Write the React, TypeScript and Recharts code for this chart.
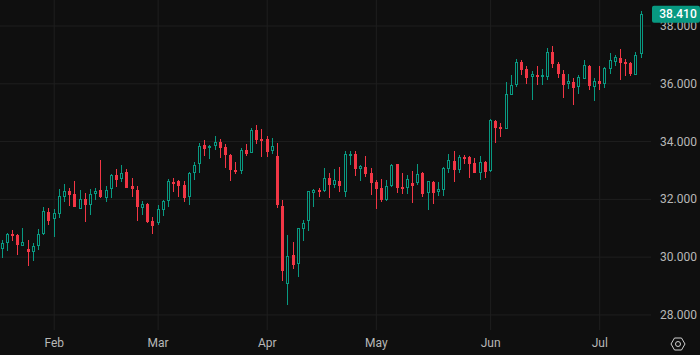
import { Bar, CartesianGrid, ComposedChart, XAxis, YAxis } from 'recharts';

const opens = [
  30.27, 30.48, 30.79, 30.76, 30.40, 30.28, 30.16, 30.38, 30.80, 31.55,
  31.34, 31.48, 32.07, 32.29, 32.18, 31.66, 32.00, 31.79, 32.16, 32.31,
  32.06, 32.37, 32.83, 32.68, 32.95, 32.45, 32.31, 31.68, 31.83, 31.24,
  31.19, 31.61, 31.92, 32.59, 32.63, 32.50, 32.06, 32.92, 33.20, 33.87,
  33.82, 33.82, 33.97, 33.80, 33.52, 33.02, 32.96, 33.71, 33.59, 34.40,
  34.09, 34.09, 33.65, 33.50, 31.77, 29.06, 30.08, 29.77, 30.95, 31.23,
  32.21, 32.34, 32.27, 32.74, 32.47, 32.64, 32.23, 33.55, 33.56, 33.05,
  33.12, 32.91, 32.60, 32.39, 31.96, 32.46, 33.22, 32.43, 32.39, 32.56,
  32.57, 32.91, 32.20, 32.60, 32.24, 32.30, 33.05, 33.33, 33.03, 33.46,
  33.47, 33.26, 32.89, 33.29, 32.98, 34.71, 34.50, 34.42, 35.60, 35.94,
  36.75, 36.50, 36.21, 36.30, 36.27, 36.24, 37.10, 36.69, 36.34, 35.99,
  36.06, 35.87, 36.18, 36.62, 35.89, 36.10, 35.99, 36.50, 36.75, 36.89,
  36.75, 36.72, 36.32, 37.01,
];
const highs = [
  30.60, 30.83, 30.94, 30.79, 31.00, 30.60, 30.49, 30.98, 31.74, 31.69,
  31.66, 32.35, 32.53, 32.38, 32.62, 32.33, 32.21, 32.36, 32.40, 33.36,
  32.45, 32.88, 33.05, 33.19, 33.05, 32.74, 32.45, 31.94, 31.86, 31.38,
  31.81, 31.98, 32.71, 32.74, 32.66, 32.64, 32.95, 33.28, 33.94, 34.04,
  33.88, 34.19, 34.09, 33.92, 33.57, 33.29, 33.77, 33.92, 34.46, 34.57,
  34.44, 34.19, 34.12, 33.95, 31.98, 30.77, 30.53, 31.00, 31.27, 32.29,
  32.36, 32.39, 33.09, 32.91, 33.05, 33.12, 33.66, 33.66, 33.66, 33.19,
  33.50, 33.09, 32.67, 32.71, 32.67, 33.21, 33.22, 32.90, 32.84, 32.98,
  33.22, 32.95, 32.64, 32.64, 32.60, 33.11, 33.57, 33.66, 33.52, 33.54,
  33.50, 33.43, 33.50, 33.33, 34.78, 34.75, 34.64, 36.05, 36.30, 36.86,
  36.81, 36.60, 36.43, 36.62, 36.51, 37.24, 37.31, 36.75, 36.48, 36.34,
  36.20, 36.30, 36.82, 36.65, 36.20, 36.62, 36.58, 37.07, 37.00, 37.20,
  36.86, 36.75, 37.10, 38.52,
];
const lows = [
  29.97, 30.19, 30.57, 30.08, 30.40, 29.70, 29.88, 30.25, 30.77, 31.11,
  30.68, 31.33, 31.91, 31.74, 31.74, 31.66, 31.22, 31.47, 31.98, 32.05,
  31.88, 32.05, 32.43, 32.61, 32.40, 32.08, 31.25, 31.45, 31.17, 30.80,
  31.11, 31.43, 31.73, 32.26, 32.08, 31.91, 31.81, 32.67, 32.91, 33.50,
  33.40, 33.71, 33.43, 33.09, 32.64, 32.88, 32.88, 33.50, 33.59, 33.92,
  33.47, 33.47, 33.57, 31.70, 29.18, 28.35, 29.59, 29.31, 30.56, 30.91,
  31.74, 32.08, 32.27, 32.05, 32.39, 32.26, 32.08, 33.16, 32.78, 32.64,
  32.78, 32.15, 31.67, 31.91, 31.96, 32.42, 32.22, 32.19, 32.19, 31.88,
  32.50, 32.08, 31.63, 31.84, 32.12, 32.12, 32.91, 32.60, 32.88, 33.22,
  32.74, 32.91, 32.67, 32.74, 32.95, 33.95, 34.16, 34.42, 35.60, 35.89,
  36.30, 35.99, 35.44, 35.96, 35.96, 36.13, 36.55, 36.20, 35.51, 35.82,
  35.27, 35.65, 36.17, 35.79, 35.41, 35.79, 35.85, 36.34, 36.62, 36.13,
  36.27, 36.27, 36.31, 36.89,
];
const closes = [
  30.48, 30.79, 30.77, 30.40, 30.54, 30.19, 30.38, 30.79, 31.59, 31.23,
  31.54, 32.11, 32.28, 32.15, 31.74, 32.00, 31.78, 32.18, 32.28, 32.08,
  32.34, 32.84, 32.65, 32.90, 32.40, 32.33, 31.71, 31.83, 31.22, 31.08,
  31.66, 31.93, 32.62, 32.57, 32.47, 32.06, 32.90, 33.18, 33.84, 33.74,
  33.85, 33.97, 33.75, 33.54, 32.99, 32.98, 33.70, 33.57, 34.39, 34.05,
  34.02, 33.64, 33.84, 31.81, 29.52, 30.03, 29.73, 31.00, 31.17, 32.28,
  32.31, 32.28, 32.73, 32.50, 32.66, 32.46, 33.56, 33.58, 33.05, 33.14,
  32.88, 32.57, 32.36, 31.98, 32.45, 33.18, 32.39, 32.36, 32.69, 32.46,
  32.87, 32.19, 32.62, 32.22, 32.35, 33.07, 33.35, 33.02, 33.47, 33.43,
  33.22, 32.91, 33.28, 32.95, 34.74, 34.47, 34.48, 35.64, 35.95, 36.74,
  36.49, 36.20, 36.33, 36.27, 36.30, 37.09, 36.69, 36.34, 35.96, 36.10,
  35.86, 36.22, 36.65, 35.92, 36.10, 35.99, 36.55, 36.82, 36.92, 36.72,
  36.72, 36.34, 37.00, 38.41,
];

const monthLabels = ['Feb', 'Mar', 'Apr', 'May', 'Jun', 'Jul'];
const monthCandles = [11, 31, 52, 73, 95, 116];
const priceTicks = [28, 30, 32, 34, 36, 38];
const lastPrice = 38.41;

const UP = '#089981';
const DOWN = '#f23645';
const BG = '#0f0f0f';
const GRID = '#1f1f1f';
const TEXT = '#b8b8b8';
const FONT = 'Roboto, sans-serif';

const data = opens.map((open, i) => ({
  n: i + 1,
  open,
  high: highs[i],
  low: lows[i],
  close: closes[i],
}));

const Wick = (p: any) => (
  <rect
    x={Math.round(p.x)}
    y={Math.round(p.y)}
    width={1}
    height={Math.max(1, Math.round(p.height))}
    fill={p.payload.close >= p.payload.open ? UP : DOWN}
  />
);

const Body = (p: any) => {
  const x = Math.round(p.x);
  const y = Math.round(p.y);
  const h = Math.max(2, Math.round(p.height));
  if (p.payload.close >= p.payload.open) {
    return <rect x={x + 0.5} y={y + 0.5} width={2} height={h - 1} fill={BG} stroke={UP} strokeWidth={1} />;
  }
  return <rect x={x} y={y} width={3} height={h} fill={DOWN} />;
};

const PriceTick = ({ y, payload }: any) => {
  if (payload.value === lastPrice) {
    return (
      <g>
        <rect x={652} y={y - 8.5} width={48} height={17} rx={2} fill={UP} />
        <text x={678} y={y + 4} textAnchor="middle" fontSize={12} fontWeight={500} fontFamily={FONT} fill="#ffffff">
          {payload.value.toFixed(3)}
        </text>
      </g>
    );
  }
  return (
    <text x={660} y={y + 4} fontSize={12} fontFamily={FONT} fill={TEXT}>
      {payload.value.toFixed(3)}
    </text>
  );
};

export default function App() {
  return (
    <div style={{ position: 'fixed', left: 0, top: 0, width: 700, height: 355, background: BG, overflow: 'hidden' }}>
      <ComposedChart
        width={700}
        height={355}
        data={data}
        margin={{ top: 0, right: 0, bottom: 0, left: 0 }}
        style={{ background: BG }}
      >
        <XAxis
          xAxisId="body"
          dataKey="n"
          type="number"
          domain={[0.56, 125.87]}
          allowDataOverflow
          ticks={monthCandles}
          tickFormatter={(v: number) => monthLabels[monthCandles.indexOf(v)]}
          height={25}
          axisLine={false}
          tickLine={false}
          tick={{ fontSize: 12, fontFamily: FONT, fill: TEXT }}
          interval={0}
        />
        <XAxis xAxisId="wick" dataKey="n" type="number" domain={[0.56, 125.87]} allowDataOverflow hide />
        <YAxis
          yAxisId="price"
          orientation="right"
          type="number"
          domain={[27.48, 38.9]}
          allowDataOverflow
          ticks={[...priceTicks, lastPrice]}
          width={49}
          axisLine={false}
          tickLine={false}
          tick={<PriceTick />}
          interval={0}
        />
        <CartesianGrid
          xAxisId="body"
          yAxisId="price"
          stroke={GRID}
          horizontalValues={priceTicks}
          verticalValues={monthCandles}
        />
        <Bar
          xAxisId="wick"
          yAxisId="price"
          dataKey={(d: any) => [d.low, d.high]}
          barSize={1}
          shape={<Wick />}
          isAnimationActive={false}
        />
        <Bar
          xAxisId="body"
          yAxisId="price"
          dataKey={(d: any) => [Math.min(d.open, d.close), Math.max(d.open, d.close)]}
          barSize={3}
          shape={<Body />}
          isAnimationActive={false}
        />
      </ComposedChart>
      <svg width={24} height={20} style={{ position: 'absolute', left: 666, top: 334 }} fill="none" stroke="#cfcfcf">
        <polygon points="5,10 8.5,4 15.5,4 19,10 15.5,16 8.5,16" />
        <circle cx={12} cy={10} r={2.5} />
      </svg>
    </div>
  );
}
